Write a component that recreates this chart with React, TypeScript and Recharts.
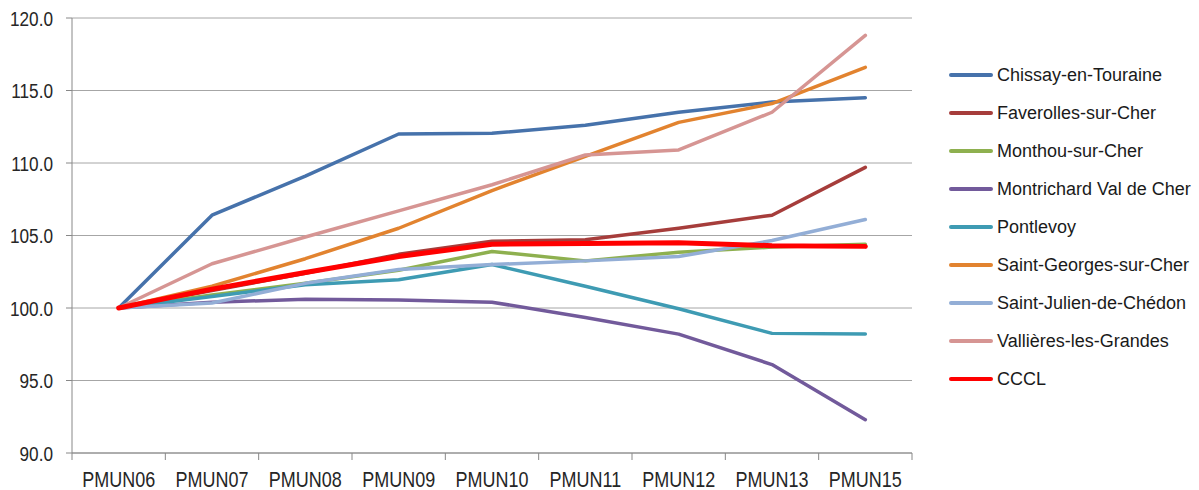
import React from "react";
import { LineChart, Line, XAxis, YAxis, CartesianGrid } from "recharts";

const categories = ["PMUN06", "PMUN07", "PMUN08", "PMUN09", "PMUN10", "PMUN11", "PMUN12", "PMUN13", "PMUN15"];

const chissay = [100, 106.4, 109.1, 112.0, 112.05, 112.6, 113.5, 114.2, 114.5];
const faverolles = [100, 101.2, 102.4, 103.7, 104.6, 104.7, 105.5, 106.4, 109.7];
const monthou = [100, 100.9, 101.7, 102.6, 103.9, 103.25, 103.85, 104.2, 104.4];
const montrichard = [100, 100.4, 100.6, 100.55, 100.4, 99.35, 98.2, 96.1, 92.3];
const pontlevoy = [100, 100.8, 101.6, 101.95, 103.0, 101.5, 99.95, 98.25, 98.2];
const saintGeorges = [100, 101.5, 103.4, 105.5, 108.1, 110.45, 112.8, 114.1, 116.6];
const saintJulien = [100, 100.35, 101.7, 102.65, 103.0, 103.25, 103.55, 104.65, 106.1];
const vallieres = [100, 103.05, 104.9, 106.7, 108.5, 110.55, 110.9, 113.5, 118.8];
const cccl = [100, 101.3, 102.45, 103.55, 104.4, 104.45, 104.5, 104.3, 104.25];

const yTicks = [90, 95, 100, 105, 110, 115, 120];

const series = [
  { key: "chissay", name: "Chissay-en-Touraine", values: chissay, color: "#4672AB" },
  { key: "faverolles", name: "Faverolles-sur-Cher", values: faverolles, color: "#A63D3B" },
  { key: "monthou", name: "Monthou-sur-Cher", values: monthou, color: "#8EB04F" },
  { key: "montrichard", name: "Montrichard Val de Cher", values: montrichard, color: "#725A9B" },
  { key: "pontlevoy", name: "Pontlevoy", values: pontlevoy, color: "#3E9BB3" },
  { key: "saintGeorges", name: "Saint-Georges-sur-Cher", values: saintGeorges, color: "#E2832F" },
  { key: "saintJulien", name: "Saint-Julien-de-Chédon", values: saintJulien, color: "#93AED6" },
  { key: "vallieres", name: "Vallières-les-Grandes", values: vallieres, color: "#D69593" },
  { key: "cccl", name: "CCCL", values: cccl, color: "#FF0000" },
];

const data = categories.map((c, i) => {
  const row: Record<string, string | number> = { cat: c };
  series.forEach((s) => (row[s.key] = s.values[i]));
  return row;
});

const FONT = "Arial, 'Liberation Sans', sans-serif";
const AXIS = "#888888";

const XTick = (props: any) => {
  const { x, y, payload, index, width, visibleTicksCount } = props;
  const half = width / visibleTicksCount / 2;
  const axisY = y - 6;
  return (
    <g>
      <line x1={x - half} x2={x - half} y1={axisY} y2={axisY + 7} stroke={AXIS} />
      {index === visibleTicksCount - 1 && (
        <line x1={x + half} x2={x + half} y1={axisY} y2={axisY + 7} stroke={AXIS} />
      )}
      <g transform={`translate(${x},${axisY + 33.5}) scale(1,1.22)`}>
        <text textAnchor="middle" fontSize={18} fontFamily={FONT} fill="#262626">
          {payload.value}
        </text>
      </g>
    </g>
  );
};

const YTick = (props: any) => {
  const { x, y, payload } = props;
  return (
    <g transform={`translate(${x},${y}) scale(1,1.22)`}>
      <text textAnchor="end" dy="0.36em" fontSize={17.2} fontFamily={FONT} fill="#262626">
        {Number(payload.value).toFixed(1)}
      </text>
    </g>
  );
};

const LegendBox = () => (
  <div style={{ position: "absolute", left: 949, top: 56, fontFamily: FONT, fontSize: 18, color: "#1a1a1a" }}>
    {series.map((s) => (
      <div key={s.key} style={{ height: 38, display: "flex", alignItems: "center" }}>
        <span
          style={{ display: "inline-block", width: 44, height: 3.5, background: s.color, borderRadius: 2, marginRight: 4 }}
        />
        <span style={{ whiteSpace: "nowrap" }}>{s.name}</span>
      </div>
    ))}
  </div>
);

export default function App() {
  return (
    <div style={{ position: "absolute", left: 0, top: 0, width: 1199, height: 490, background: "#fff" }}>
      <LineChart width={1199} height={490} data={data} margin={{ top: 18, right: 287, bottom: 0, left: 0 }}>
        <CartesianGrid vertical={false} stroke="#A6A6A6" />
        <XAxis
          dataKey="cat"
          scale="band"
          height={37}
          stroke={AXIS}
          tickLine={false}
          tickSize={6}
          tickMargin={0}
          interval={0}
          tick={<XTick />}
        />
        <YAxis
          domain={[90, 120]}
          ticks={yTicks}
          width={72}
          stroke={AXIS}
          tickSize={6}
          tickMargin={13}
          interval={0}
          tick={<YTick />}
        />
        {series.map((s) => (
          <Line
            key={s.key}
            dataKey={s.key}
            name={s.name}
            type="linear"
            stroke={s.color}
            strokeWidth={s.key === "cccl" ? 5 : 3.5}
            strokeLinejoin="round"
            strokeLinecap="round"
            dot={false}
            activeDot={false}
            isAnimationActive={false}
          />
        ))}
      </LineChart>
      <LegendBox />
    </div>
  );
}
